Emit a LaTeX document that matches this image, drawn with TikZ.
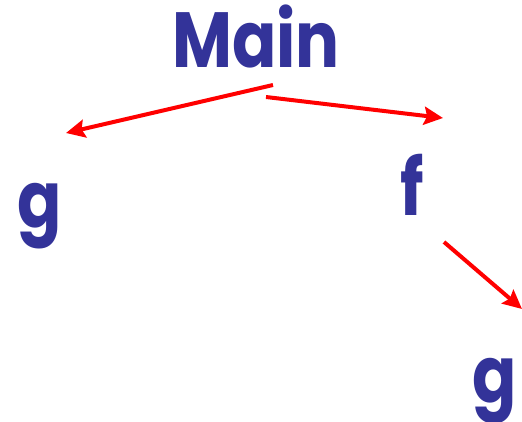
\documentclass[tikz,border=0pt]{standalone}
\usepackage{fontspec}
\setmainfont{Poppins}
\usetikzlibrary{arrows.meta}
\definecolor{lblue}{RGB}{51,51,153}
\definecolor{ared}{RGB}{255,0,0}
\newcommand\lblt[1]{\scalebox{0.96}[1.15]{#1}}
\tikzset{
  lbl/.style={text=lblue, inner sep=0pt, anchor=base west, font=\fontsize{68}{72}\selectfont\bfseries},
  conn/.style={draw=ared, line width=4pt, -{Stealth[length=19pt,width=18pt,inset=3pt]}}
}
\begin{document}
\begin{tikzpicture}[x=1pt,y=-1pt]
\useasboundingbox (0,0) rectangle (522,422);
\node[lbl] (main) at (172,68) {\lblt{Main}};
\node[lbl] (g1) at (17,228) {\lblt{g}};
\node[lbl] (f) at (400,216) {\lblt{f}};
\node[lbl] (g2) at (472,402) {\lblt{g}};
\coordinate (m1) at (273,85);
\coordinate (m2) at (266,97);
\coordinate (gt1) at (66,133);
\coordinate (ft) at (443,118);
\coordinate (fs) at (444,242);
\coordinate (gt2) at (522,309);
\draw[conn] (m1) -- (gt1);
\draw[conn] (m2) -- (ft);
\draw[conn] (fs) -- (gt2);
\end{tikzpicture}
\end{document}
